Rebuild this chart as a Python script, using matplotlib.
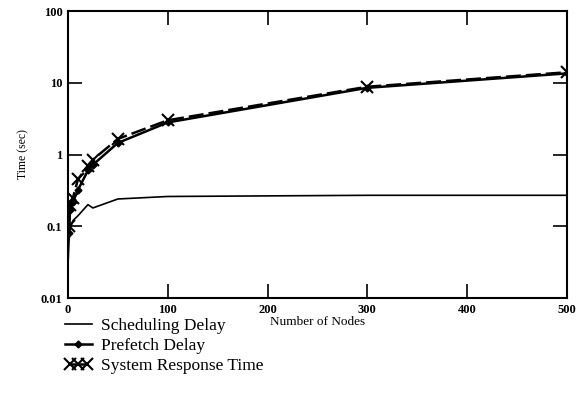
import matplotlib
matplotlib.use('Agg')
import matplotlib.pyplot as plt
from matplotlib.legend_handler import HandlerLine2D

# values (log y axis)
sched_x = [0, 1, 2, 5, 10, 20, 25, 50, 100, 200, 300, 500]
sched_y = [0.028, 0.06, 0.09, 0.12, 0.14, 0.2, 0.18, 0.24, 0.26, 0.265, 0.27, 0.27]

prefetch_x = [1, 2, 5, 10, 20, 25, 50, 100, 300, 500]
prefetch_y = [0.08, 0.17, 0.22, 0.32, 0.6, 0.72, 1.45, 2.8, 8.5, 13.5]

resp_x = [1, 2, 5, 10, 20, 25, 50, 100, 300, 500]
resp_y = [0.1, 0.2, 0.25, 0.45, 0.7, 0.85, 1.65, 3.0, 8.8, 14.0]

plt.rcParams['font.family'] = ['Liberation Serif', 'DejaVu Serif']

fig = plt.figure(figsize=(5.88, 3.93), dpi=100)
ax = fig.add_axes([0.1156, 0.2417, 0.8484, 0.7303])

l1, = ax.plot(sched_x, sched_y, color='k', lw=1.2, label='Scheduling Delay')
l2, = ax.plot(prefetch_x, prefetch_y, color='k', lw=1.8, marker='D', ms=3.5,
              label='Prefetch Delay')
l3, = ax.plot(resp_x, resp_y, color='k', lw=1.8, ls=(0, (6, 2)), marker='x', ms=8,
              mew=1.5, label='System Response Time')

ax.set_yscale('log')
ax.set_xlim(0, 500)
ax.set_ylim(0.01, 100)
ax.set_xticks([0, 100, 200, 300, 400, 500])
ax.set_yticks([0.01, 0.1, 1, 10, 100])
ax.set_yticklabels(['0.01', '0.1', '1', '10', '100'])
ax.minorticks_off()
ax.tick_params(direction='in', length=10, width=1.2, top=True, right=True,
               labelsize=9, pad=4)
for lab in ax.get_xticklabels() + ax.get_yticklabels():
    lab.set_fontweight('bold')
for s in ax.spines.values():
    s.set_linewidth(1.5)

ax.set_xlabel('Number of Nodes', fontsize=9.5, labelpad=0)
ax.set_ylabel('Time (sec)', fontsize=8.5, labelpad=8)

fig.legend(handles=[l1, l2, l3], loc='upper left', bbox_to_anchor=(0.1105, 0.19),
           frameon=False, fontsize=12.5, handlelength=1.55, handletextpad=0.5,
           labelspacing=0.2, borderpad=0, borderaxespad=0,
           handler_map={l3: HandlerLine2D(numpoints=3)})

fig.savefig('out.png', dpi=100)
plt.close(fig)
